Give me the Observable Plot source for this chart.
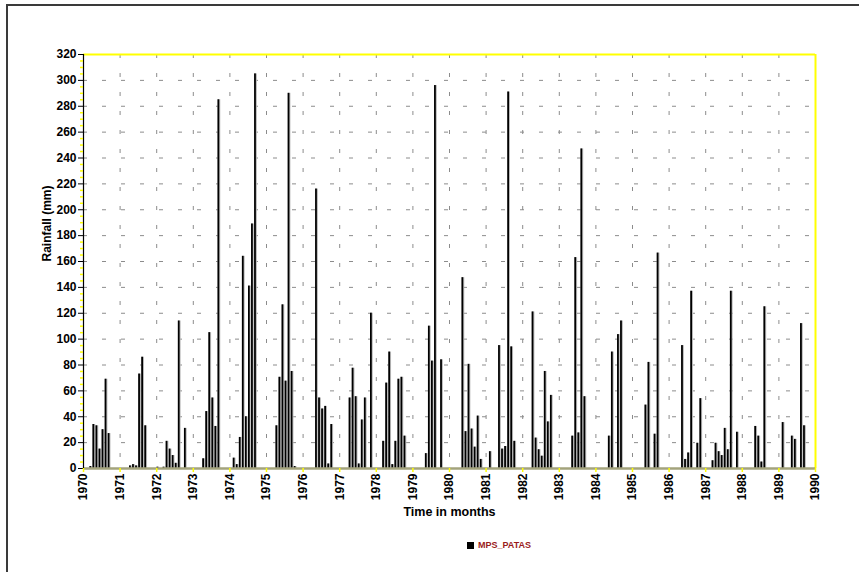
<!DOCTYPE html>
<html>
<head>
<meta charset="utf-8">
<script src="https://cdn.jsdelivr.net/npm/d3@7"></script>
<script src="https://cdn.jsdelivr.net/npm/@observablehq/plot@0.6"></script>
<style>
  html, body { margin: 0; padding: 0; background: #fff; }
  #wrap { position: relative; width: 859px; height: 572px; overflow: hidden; }
  #border { position: absolute; left: 6px; top: 4px; width: 900px; height: 600px;
            border-top: 2px solid #3a3a3a; border-left: 2px solid #3a3a3a; pointer-events: none; }
  #legend { position: absolute; left: 467px; top: 540px; font: bold 9px "Liberation Sans", Arial, sans-serif;
            color: #9a1c1c; display: flex; align-items: center; gap: 4px; }
  #legend .sw { width: 7px; height: 7px; background: #000; display: inline-block; }
</style>
</head>
<body>
<div id="wrap">
  <div id="chart"></div>
  <div id="border"></div>
  <div id="legend"><span class="sw"></span><span>MPS_PATAS</span></div>
</div>
<script>
// Monthly rainfall (mm), Jan..Dec, station MPS_PATAS
const years = [1970,1971,1972,1973,1974,1975,1976,1977,1978,1979,1980,1981,1982,1983,1984,1985,1986,1987,1988,1989];
const r1970 = [0,0,1.5,34,33,15,30,69,27,0,0,0];
const r1971 = [0,0,0,2,3,2,73,86,33,0,0,0];
const r1972 = [1,0,1,21,15,10,4,114,0,31,0,0];
const r1973 = [0,0,0,7.5,44,105,54.5,32.5,285,0,0,0];
const r1974 = [0,8,3,24,164,40,141,189,305,0,0,0];
const r1975 = [0,0,0,33,70.5,126.5,67.5,290,75,1.5,0,0];
const r1976 = [0,0,0,0,216,54.5,46,48,3.5,34,0,0];
const r1977 = [0,0,0,54.5,77.5,55.5,3.5,37.5,54.5,0,120,0];
const r1978 = [0,0,21,66,90,3,21,69,70.5,25,0,0];
const r1979 = [0,0,0,0,11.5,110,83,296,0,84,0,0];
const r1980 = [0,0,0,0,147.5,28.5,80.5,30.5,16.5,40.5,7,0];
const r1981 = [0,13,0,0,95,15,17,291,94,21,0,0];
const r1982 = [0,0,0,121,23.5,14.5,9.5,75,36,56.5,0,0];
const r1983 = [0,0,0,0,25,163,27.5,247,55.5,0,0,0];
const r1984 = [0,0,0,0,25,90,0,103.5,114,0,0,0];
const r1985 = [0,0,0,0,49,82,0,26.5,166.5,0,0,0];
const r1986 = [0,0,0,0,95,7,12,137,0,19.5,54,0];
const r1987 = [0,0,6,19.5,13,10,31,14.5,137,0,28,0];
const r1988 = [0,0,0,0,32.5,25,5,125,0,0,0,0];
const r1989 = [0,35.5,0,0,25,22.5,0,112,33,0,0,0];
const series = [r1970,r1971,r1972,r1973,r1974,r1975,r1976,r1977,r1978,r1979,
                r1980,r1981,r1982,r1983,r1984,r1985,r1986,r1987,r1988,r1989];

const xTicks = [1970,1971,1972,1973,1974,1975,1976,1977,1978,1979,1980,1981,1982,1983,1984,1985,1986,1987,1988,1989,1990];
const yTicks = [0,20,40,60,80,100,120,140,160,180,200,220,240,260,280,300,320];
const yMinor = d3.range(0, 321, 5).filter(d => d % 20 !== 0);

const rows = years.flatMap((y, k) => series[k].map((v, m) => ({t0: y + m / 12, t1: y + (m + 1) / 12, v})))
  .filter(d => d.v > 0);

const font = "'Liberation Sans', Arial, sans-serif";
const grid = {stroke: "#8c8c8c", strokeOpacity: 1, strokeDasharray: "4,15", strokeWidth: 1};

const chart = Plot.plot({
  width: 859, height: 572,
  marginLeft: 83, marginRight: 44, marginTop: 54, marginBottom: 104,
  x: {type: "linear", domain: [1970, 1990]},
  y: {domain: [0, 320]},
  style: {fontFamily: font, background: "transparent", color: "#000"},
  marks: [
    Plot.gridX(xTicks.slice(1, -1), grid),
    Plot.gridY(yTicks.slice(1, -1), grid),
    Plot.rectY(rows, {x1: "t0", x2: "t1", y: "v", fill: "#b8b8b8", insetLeft: 0.3}),
    Plot.rectY(rows, {x1: "t0", x2: "t1", y: "v", fill: "#000", insetLeft: 0.3, insetRight: 1}),
    Plot.ruleY([320], {stroke: "#ffff00", strokeWidth: 2}),
    Plot.ruleX([1990], {stroke: "#ffff00", strokeWidth: 2}),
    Plot.ruleY([0], {stroke: "#a3a37c", strokeWidth: 2.5}),
    Plot.ruleX([1970], {stroke: "#000", strokeWidth: 1.2}),
    Plot.axisY(yMinor, {tickSize: 3, stroke: "#ffff00", strokeWidth: 1.5, tickFormat: () => "", label: null}),
    Plot.axisY(yTicks, {tickSize: 5, tickPadding: 2, stroke: "#000", tickFormat: d => String(d),
      fontWeight: "bold", fontSize: 12, label: null}),
    Plot.axisX(xTicks, {tickSize: 4, stroke: "#ffff00", strokeWidth: 1.5, tickFormat: () => "", label: null}),
    Plot.axisX(xTicks, {tickSize: 0, tickPadding: 5, tickRotate: -90, tickFormat: d => String(d),
      fontWeight: "bold", fontSize: 12, label: null}),
    Plot.text(["Rainfall (mm)"], {frameAnchor: "left", rotate: -90, dx: -36, fontWeight: "bold", fontSize: 12}),
    Plot.text(["Time in months"], {frameAnchor: "bottom", dy: 47, fontWeight: "bold", fontSize: 12.5})
  ]
});
document.getElementById("chart").appendChild(chart);
</script>
</body>
</html>
